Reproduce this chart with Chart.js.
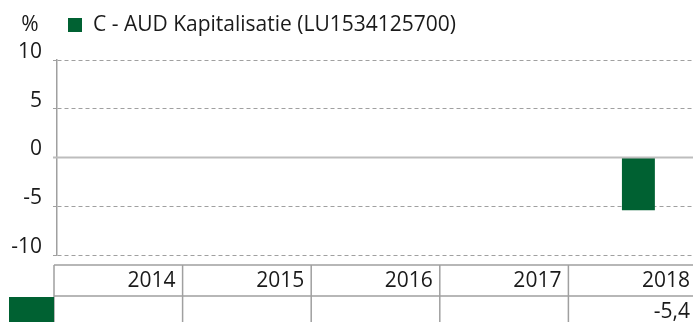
<!DOCTYPE html>
<html>
<head>
<meta charset="utf-8">
<script src="https://cdn.jsdelivr.net/npm/chart.js@4"></script>
<style>
  html, body { margin: 0; padding: 0; background: #fff; }
  #wrap { width: 693px; height: 322px; position: relative; }
</style>
</head>
<body>
<div id="wrap"><canvas id="perfChart"></canvas></div>
<script>
// Jaarlijkse rendementen
const years = ['2014', '2015', '2016', '2017', '2018'];
const returns = [null, null, null, null, -5.4];
const seriesName = 'C - AUD Kapitalisatie (LU1534125700)';
const yTicks = [-10, -5, 0, 5, 10];

const GREEN = '#006132';
const FONT = '"Open Sans", sans-serif';
const TEXT = '#1a1a1a';
const LINE = '#a0a0a0';

// legend, "%" label, zero line and data table drawn around the chart
const tablePlugin = {
    id: 'tablePlugin',
    afterLayout(chart) {
        // category band runs a little past the right edge, like the original
        const x = chart.scales.x;
        x.right += 10;
        x.width += 10;
        x.configure();
    },
    afterDraw(chart) {
        const ctx = chart.ctx;
        const area = chart.chartArea;
        const y = chart.scales.y;

        ctx.save();
        ctx.font = '21px ' + FONT;
        ctx.fillStyle = TEXT;
        ctx.textBaseline = 'middle';

        // unit + legend
        ctx.textAlign = 'center';
        ctx.fillText('%', 30, 25);
        ctx.fillStyle = GREEN;
        ctx.fillRect(68, 18, 14, 14);
        ctx.fillStyle = TEXT;
        ctx.textAlign = 'left';
        ctx.fillText(seriesName, 93, 25);

        // zero line
        const y0 = y.getPixelForValue(0);
        ctx.strokeStyle = '#bdbdbd';
        ctx.lineWidth = 2;
        ctx.beginPath();
        ctx.moveTo(area.left - 4, y0);
        ctx.lineTo(chart.width, y0);
        ctx.stroke();

        // table, one column per year
        const tableLeft = area.left - 3;
        const colW = (chart.width + 4 - tableLeft) / years.length;
        const edges = years.map((_, i) => tableLeft + i * colW);
        const top = 265, mid = 296, bottom = chart.height;

        ctx.strokeStyle = LINE;
        ctx.lineWidth = 1.5;
        ctx.beginPath();
        ctx.moveTo(tableLeft, top); ctx.lineTo(chart.width, top);
        ctx.moveTo(tableLeft, mid); ctx.lineTo(chart.width, mid);
        edges.forEach(e => {
            ctx.moveTo(e, top); ctx.lineTo(e, bottom);
        });
        ctx.stroke();

        ctx.fillStyle = GREEN;
        ctx.fillRect(9, mid + 1, tableLeft - 9, bottom - mid);

        ctx.fillStyle = TEXT;
        ctx.textAlign = 'right';
        years.forEach((yr, i) => {
            const right = Math.min(edges[i] + colW - 7, chart.width - 3);
            ctx.fillText(yr, right, 281);
            if (returns[i] !== null) {
                ctx.fillText(returns[i].toFixed(1).replace('.', ','), right, 312);
            }
        });
        ctx.restore();
    }
};

new Chart(document.getElementById('perfChart'), {
    type: 'bar',
    data: {
        labels: years,
        datasets: [{
            label: seriesName,
            data: returns,
            backgroundColor: GREEN,
            borderWidth: 0,
            categoryPercentage: 1,
            barPercentage: 0.255
        }]
    },
    options: {
        responsive: true,
        maintainAspectRatio: false,
        animation: false,
        layout: { padding: { top: 60, bottom: 67, left: 0, right: 0 } },
        plugins: {
            legend: { display: false },
            tooltip: { enabled: false }
        },
        scales: {
            x: {
                afterFit: scale => { scale.height = 0; },
                ticks: { display: false },
                grid: { display: false },
                border: { display: false }
            },
            y: {
                min: -10,
                max: 10,
                afterBuildTicks: scale => { scale.ticks = yTicks.map(v => ({ value: v })); },
                afterFit: scale => { scale.width = 57; },
                ticks: {
                    font: { family: FONT, size: 21 },
                    color: TEXT,
                    padding: 11,
                    labelOffset: -8
                },
                grid: {
                    color: ctx => ctx.tick && ctx.tick.value === 0 ? 'rgba(0,0,0,0)' : LINE,
                    tickColor: ctx => ctx.tick && ctx.tick.value === 0 ? 'rgba(0,0,0,0)' : LINE,
                    tickLength: 4,
                    tickBorderDash: [4, 3],
                    lineWidth: 1
                },
                border: { display: true, color: LINE, width: 1.5, dash: [4, 3] }
            }
        }
    },
    plugins: [tablePlugin]
});
</script>
</body>
</html>
